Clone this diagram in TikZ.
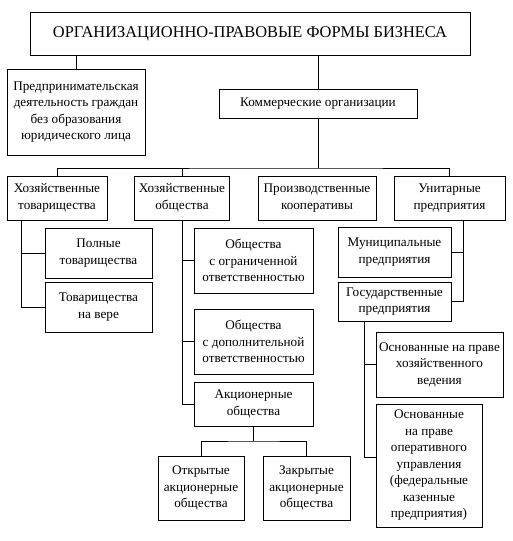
\documentclass[tikz,border=0pt]{standalone}
\usepackage{fontspec}
\setmainfont{Liberation Serif}
\usetikzlibrary{positioning,calc}

\begin{document}
\begin{tikzpicture}[
  x=1pt, y=-1pt,
  font=\fontsize{13.2}{16.5}\selectfont,
  box/.style={
    rectangle, draw=black, fill=white, line width=0.8pt,
    inner sep=1pt, align=center
  },
  headbox/.style={
    box, font=\fontsize{16.4}{18}\selectfont
  },
  link/.style={black, line width=0.8pt},
]
\useasboundingbox (0,0) rectangle (513,541);

% Title and first level
\node[headbox, minimum width=440, minimum height=43] (title) at (250,33.5)
  {ОРГАНИЗАЦИОННО-ПРАВОВЫЕ ФОРМЫ БИЗНЕСА};
\node[box, minimum width=138, minimum height=86] (pred) at (76,112)
  {Предпринимательская\\деятельность граждан\\без образования\\юридического лица};
\node[box, minimum width=198, minimum height=29] (kom) at (318,103.5)
  {Коммерческие организации};

\draw[link] (title.south -| pred.north) -- (pred.north);
\draw[link] (title.south -| kom.north) -- (kom.north);

% Kinds of commercial organisations
\node[box, minimum width=100, minimum height=44] (tov)  at (57,198)
  {Хозяйственные\\товарищества};
\node[box, minimum width=95, minimum height=44]  (obsh) at (182,198)
  {Хозяйственные\\общества};
\node[box, minimum width=118, minimum height=44] (koop) at (317,198)
  {Производственные\\кооперативы};
\node[box, minimum width=111, minimum height=44] (unit) at (449.5,198)
  {Унитарные\\предприятия};

\coordinate (mainbus) at (318,168);
\draw[link] (kom.south) -- (mainbus);
\draw[link] (tov.north) |- (mainbus) -| (unit.north);
\draw[link] (obsh.north) -- (obsh.north |- mainbus);

% Partnerships
\node[box, minimum width=107, minimum height=50] (poln) at (98.5,253)
  {Полные\\товарищества};
\node[box, minimum width=107, minimum height=50] (vera) at (98.5,307)
  {Товарищества\\на вере};

\coordinate (tovspine) at (21,220);
\draw[link] (tovspine) |- (poln.west);
\draw[link] (tovspine) |- (vera.west);

% Companies
\node[box, minimum width=119, minimum height=65] (ooo) at (253.5,260.5)
  {Общества\\с ограниченной\\ответственностью};
\node[box, minimum width=119, minimum height=65] (odo) at (253.5,341.5)
  {Общества\\с дополнительной\\ответственностью};
\node[box, minimum width=119, minimum height=44] (ao)  at (253.5,404)
  {Акционерные\\общества};

\draw[link] (obsh.south) |- (ooo.west);
\draw[link] (obsh.south) |- (odo.west);
\draw[link] (obsh.south) |- (ao.west);

% Joint-stock companies
\node[box, minimum width=86, minimum height=64] (oao) at (201,488)
  {Открытые\\акционерные\\общества};
\node[box, minimum width=87, minimum height=64] (zao) at (306.5,488)
  {Закрытые\\акционерные\\общества};

\coordinate (aobus) at (253.5,441);
\draw[link] (ao.south) -- (aobus);
\draw[link] (oao.north) |- (aobus) -| (zao.north);

% Unitary enterprises
\node[box, minimum width=113, minimum height=50] (mun) at (394.5,252)
  {Муниципальные\\предприятия};
\node[box, minimum width=113, minimum height=39] (gos) at (394.5,301.5)
  {Государственные\\предприятия};

\coordinate (unitspine) at (463,220);
\draw[link] (unitspine) |- (mun.east);
\draw[link] (unitspine) |- (gos.east);

% State enterprises
\node[box, minimum width=127, minimum height=65] (hoz)  at (439.5,364.5)
  {Основанные на праве\\хозяйственного\\ведения};
\node[box, minimum width=106, minimum height=123] (oper) at (429,465.5)
  {Основанные\\на праве\\оперативного\\управления\\(федеральные\\казенные\\предприятия)};

\coordinate (gosspine) at (364,321);
\draw[link] (gosspine) |- (hoz.west);
\draw[link] (gosspine) |- ($(oper.west)+(0,-8)$);

\end{tikzpicture}
\end{document}
